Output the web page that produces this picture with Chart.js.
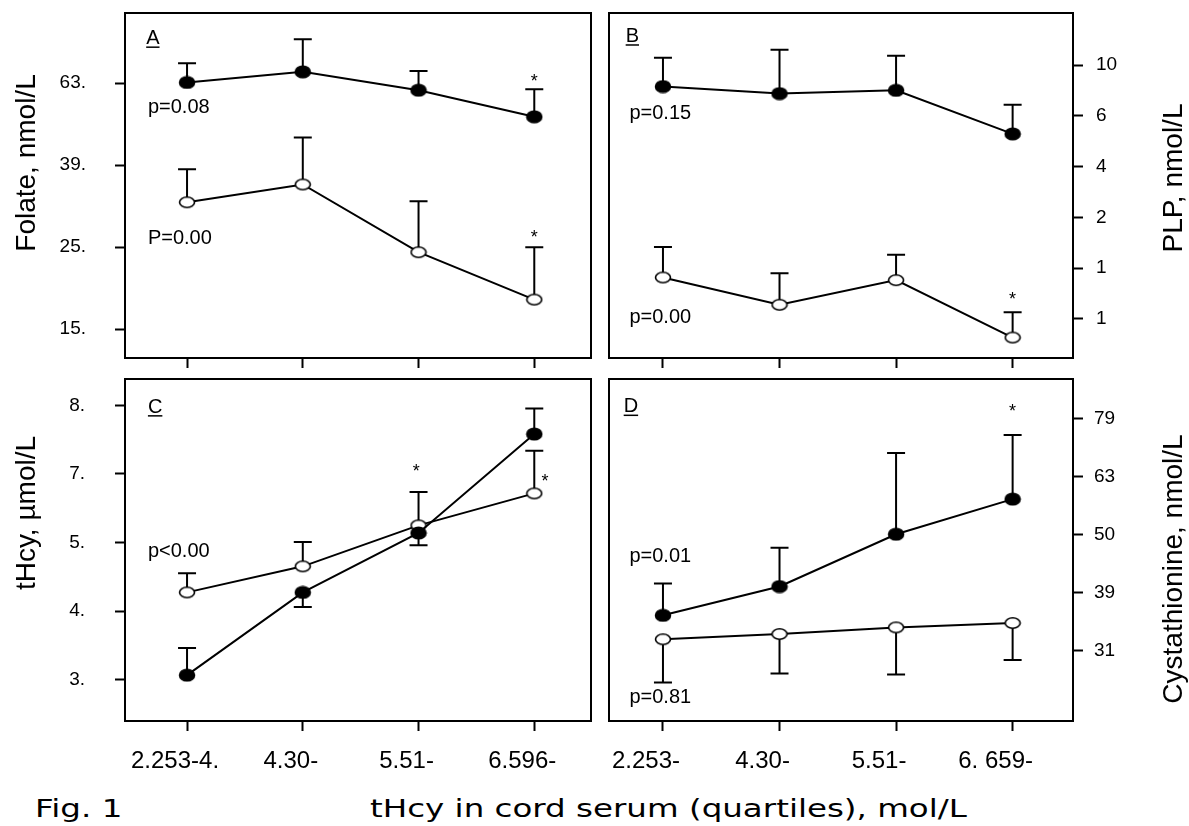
<!doctype html>
<html>

<head>
	<title>Fig. 1</title>
	<script src="https://cdn.jsdelivr.net/npm/chart.js@4.4.0/dist/chart.umd.min.js"></script>
	<style>
	body {
		margin: 0;
		background: #fff;
	}
	.page {
		position: relative;
		width: 1189px;
		height: 826px;
		overflow: hidden;
		font-family: 'Liberation Sans', Arial, sans-serif;
		color: #000;
	}
	canvas {
		position: absolute;
	}
	.ytitle {
		position: absolute;
		font-size: 28px;
		line-height: 1;
		white-space: nowrap;
		transform: translate(-50%, -50%) rotate(-90deg);
	}
	.caption {
		position: absolute;
		font-family: 'DejaVu Sans', Verdana, sans-serif;
		font-size: 25px;
		line-height: 1;
		white-space: nowrap;
		transform-origin: 0 0;
		transform: scaleX(1.3);
	}
	</style>
</head>

<body>
	<div class="page">
		<canvas id="panelA" width="600" height="370" style="left:0;top:0"></canvas>
		<canvas id="panelB" width="589" height="370" style="left:600px;top:0"></canvas>
		<canvas id="panelC" width="600" height="420" style="left:0;top:370px"></canvas>
		<canvas id="panelD" width="589" height="420" style="left:600px;top:370px"></canvas>
		<div class="ytitle" style="left:26px;top:163px">Folate, nmol/L</div>
		<div class="ytitle" style="left:1173px;top:178px">PLP, nmol/L</div>
		<div class="ytitle" style="left:26px;top:513px">tHcy, µmol/L</div>
		<div class="ytitle" style="left:1173px;top:569px">Cystathionine, nmol/L</div>
		<div class="caption" style="left:35px;top:796px">Fig. 1</div>
		<div class="caption" style="left:370px;top:796px">tHcy in cord serum (quartiles), mol/L</div>
	</div>
	<script>
		// quartile groups (x positions 0..3)
		var quartileIndex = [0, 1, 2, 3];
		var xLabelsLeft = ['2.253-4.', '4.30-', '5.51-', '6.596-'];
		var xLabelsRight = ['2.253-', '4.30-', '5.51-', '6. 659-'];

		// A: folate (log axis)
		var folateTicks = [15.85, 25.12, 39.81, 63.1];
		var folateTickLabels = ['15.', '25.', '39.', '63.'];
		var folateFilled = [63.3, 67.2, 60.6, 52.2];
		var folateFilledErr = [70.5, 80.7, 67.5, 60.9];
		var folateOpen = [32.3, 35.7, 24.4, 18.7];
		var folateOpenErr = [38.9, 46.5, 32.5, 25.1];

		// B: PLP (log axis)
		var plpTicks = [1, 1.585, 2.512, 3.981, 6.31, 10];
		var plpTickLabels = ['1', '1', '2', '4', '6', '10'];
		var plpFilled = [8.24, 7.73, 7.96, 5.36];
		var plpFilledErr = [10.7, 11.5, 10.9, 6.98];
		var plpOpen = [1.455, 1.135, 1.42, 0.843];
		var plpOpenErr = [1.92, 1.51, 1.79, 1.06];

		// C: tHcy (log axis)
		var thcyTicks = [3, 3.834, 4.899, 6.261, 8];
		var thcyTickLabels = ['3.', '4.', '5.', '7.', '8.'];
		var thcyFilled = [3.05, 4.10, 5.07, 7.22];
		var thcyFilledErr = [3.36, 3.89, 4.85, 7.91];
		var thcyOpen = [4.10, 4.50, 5.21, 5.84];
		var thcyOpenErr = [4.39, 4.91, 5.87, 6.80];

		// D: cystathionine (log axis)
		var cysTicks = [31.62, 39.81, 50.12, 63.1, 79.43];
		var cysTickLabels = ['31', '39', '50', '63', '79'];
		var cysFilled = [36.4, 40.8, 50.2, 57.7];
		var cysFilledErr = [41.3, 47.6, 69.3, 74.4];
		var cysOpen = [33.1, 33.8, 34.7, 35.3];
		var cysOpenErr = [27.9, 28.9, 28.8, 30.5];

		Chart.defaults.font.family = "'Liberation Sans', Arial, sans-serif";
		Chart.defaults.color = '#000';

		function makeDot(filled) {
			var c = document.createElement('canvas');
			c.width = 18;
			c.height = 14;
			var g = c.getContext('2d');
			g.beginPath();
			g.ellipse(9, 7, 7.5, filled ? 5.7 : 5.2, 0, 0, Math.PI * 2);
			g.fillStyle = filled ? '#000' : '#fff';
			g.fill();
			g.lineWidth = 1.6;
			g.strokeStyle = '#000';
			g.stroke();
			return c;
		}
		var filledDot = makeDot(true);
		var openDot = makeDot(false);

		function series(values, errEnd, dot) {
			return {
				data: quartileIndex.map(function(x, i) {
					return {x: x, y: values[i]};
				}),
				errEnd: errEnd,
				borderColor: '#000',
				borderWidth: 2,
				pointStyle: dot,
				pointRadius: 7,
				tension: 0,
				fill: false
			};
		}

		var frame = {
			id: 'frame',
			afterDraw: function(chart) {
				var a = chart.chartArea, ctx = chart.ctx;
				ctx.save();
				ctx.lineWidth = 2;
				ctx.strokeStyle = '#000';
				ctx.strokeRect(a.left, a.top, a.right - a.left, a.bottom - a.top);
				ctx.restore();
			}
		};

		var errorBars = {
			id: 'errorBars',
			beforeDatasetsDraw: function(chart) {
				var ctx = chart.ctx, y = chart.scales.y;
				ctx.save();
				ctx.strokeStyle = '#000';
				ctx.lineWidth = 2;
				chart.data.datasets.forEach(function(ds, d) {
					chart.getDatasetMeta(d).data.forEach(function(pt, i) {
						var end = y.getPixelForValue(ds.errEnd[i]);
						ctx.beginPath();
						ctx.moveTo(pt.x, pt.y);
						ctx.lineTo(pt.x, end);
						ctx.moveTo(pt.x - 9, end);
						ctx.lineTo(pt.x + 9, end);
						ctx.stroke();
					});
				});
				ctx.restore();
			}
		};

		// text notes placed in data coordinates
		function makeNotes(notes) {
			return {
				id: 'notes',
				afterDatasetsDraw: function(chart) {
					var ctx = chart.ctx;
					ctx.save();
					ctx.fillStyle = '#000';
					ctx.strokeStyle = '#000';
					notes.forEach(function(n) {
						var size = n.size || 20;
						var px = chart.scales.x.getPixelForValue(n.x);
						var py = chart.scales.y.getPixelForValue(n.y);
						var star = n.text === '*';
						ctx.font = size + "px 'Liberation Sans', Arial, sans-serif";
						ctx.textAlign = star ? 'center' : 'left';
						ctx.textBaseline = 'alphabetic';
						var base = py + (star ? 0.575 : 0.358) * size;
						ctx.fillText(n.text, px, base);
						if (n.underline) {
							var w = ctx.measureText(n.text).width;
							ctx.lineWidth = 1.5;
							ctx.beginPath();
							ctx.moveTo(px, base + 3);
							ctx.lineTo(px + w, base + 3);
							ctx.stroke();
						}
					});
					ctx.restore();
				}
			};
		}

		function panel(id, cfg) {
			var tickGrid = {
				drawOnChartArea: false,
				tickLength: 10,
				tickWidth: 2,
				tickColor: '#000'
			};
			return new Chart(document.getElementById(id), {
				type: 'line',
				data: {
					datasets: [
						series(cfg.filled, cfg.filledErr, filledDot),
						series(cfg.open, cfg.openErr, openDot)
					]
				},
				options: {
					responsive: false,
					animation: false,
					events: [],
					layout: {padding: cfg.padding},
					plugins: {
						legend: {display: false},
						tooltip: {enabled: false}
					},
					scales: {
						x: {
							type: 'linear',
							min: cfg.xMin,
							max: cfg.xMax,
							afterBuildTicks: function(s) {
								s.ticks = quartileIndex.map(function(v) { return {value: v}; });
							},
							ticks: {
								display: !!cfg.xLabels,
								autoSkip: false,
								maxRotation: 0,
								padding: 16,
								labelOffset: cfg.labelOffset || 0,
								font: {size: 24},
								callback: function(v, i) { return cfg.xLabels ? cfg.xLabels[i] : ''; }
							},
							grid: tickGrid,
							border: {display: false},
							afterFit: function(s) {
								s.height = cfg.xHeight;
								s.paddingLeft = 0;
								s.paddingRight = 0;
							}
						},
						y: {
							type: 'logarithmic',
							position: cfg.yPosition,
							min: cfg.yMin,
							max: cfg.yMax,
							afterBuildTicks: function(s) {
								s.ticks = cfg.yTicks.map(function(v) { return {value: v}; });
							},
							ticks: {
								autoSkip: false,
								padding: cfg.yPad,
								font: {size: 19},
								callback: function(v, i) { return cfg.yTickLabels[i]; }
							},
							grid: tickGrid,
							border: {display: false},
							afterFit: function(s) {
								s.width = cfg.yWidth;
								s.paddingTop = 0;
								s.paddingBottom = 0;
							}
						}
					}
				},
				plugins: [frame, errorBars, makeNotes(cfg.notes)]
			});
		}

		window.onload = function() {
			panel('panelA', {
				filled: folateFilled, filledErr: folateFilledErr,
				open: folateOpen, openErr: folateOpenErr,
				padding: {top: 13, right: 8, left: 0, bottom: 0},
				xMin: -0.536, xMax: 3.49, xHeight: 12,
				yPosition: 'left', yMin: 13.47, yMax: 93.5, yWidth: 125, yPad: 29,
				yTicks: folateTicks, yTickLabels: folateTickLabels,
				notes: [
					{text: 'A', x: -0.353, y: 81.7, underline: true},
					{text: 'p=0.08', x: -0.338, y: 55.4},
					{text: 'P=0.00', x: -0.338, y: 26.6},
					{text: '*', x: 3, y: 65.3, size: 18},
					{text: '*', x: 3, y: 27.2, size: 18}
				]
			});
			panel('panelB', {
				filled: plpFilled, filledErr: plpFilledErr,
				open: plpOpen, openErr: plpOpenErr,
				padding: {top: 13, right: 0, left: 4, bottom: 0},
				xMin: -0.463, xMax: 3.518, xHeight: 12,
				yPosition: 'right', yMin: 0.721, yMax: 16.07, yWidth: 116, yPad: 13,
				yTicks: plpTicks, yTickLabels: plpTickLabels,
				notes: [
					{text: 'B', x: -0.32, y: 13.18, underline: true},
					{text: 'p=0.15', x: -0.288, y: 6.54},
					{text: 'p=0.00', x: -0.288, y: 1.024},
					{text: '*', x: 3, y: 1.243, size: 18}
				]
			});
			panel('panelC', {
				filled: thcyFilled, filledErr: thcyFilledErr,
				open: thcyOpen, openErr: thcyOpenErr,
				padding: {top: 5, right: 8, left: 0, bottom: 0},
				xMin: -0.536, xMax: 3.49, xHeight: 69,
				xLabels: xLabelsLeft, labelOffset: -12,
				yPosition: 'left', yMin: 2.589, yMax: 8.79, yWidth: 125, yPad: 30,
				yTicks: thcyTicks, yTickLabels: thcyTickLabels,
				notes: [
					{text: 'C', x: -0.338, y: 7.99, underline: true},
					{text: 'p<0.00', x: -0.338, y: 4.78},
					{text: '*', x: 1.981, y: 6.43, size: 18},
					{text: '*', x: 3.093, y: 6.21, size: 18}
				]
			});
			panel('panelD', {
				filled: cysFilled, filledErr: cysFilledErr,
				open: cysOpen, openErr: cysOpenErr,
				padding: {top: 5, right: 0, left: 4, bottom: 0},
				xMin: -0.463, xMax: 3.518, xHeight: 69,
				xLabels: xLabelsRight, labelOffset: -17,
				yPosition: 'right', yMin: 23.94, yMax: 92.9, yWidth: 116, yPad: 11,
				yTicks: cysTicks, yTickLabels: cysTickLabels,
				notes: [
					{text: 'D', x: -0.337, y: 83.75, underline: true},
					{text: 'p=0.01', x: -0.288, y: 46.2},
					{text: 'p=0.81', x: -0.288, y: 26.4},
					{text: '*', x: 3, y: 83.1, size: 18}
				]
			});
		};
	</script>
</body>

</html>
